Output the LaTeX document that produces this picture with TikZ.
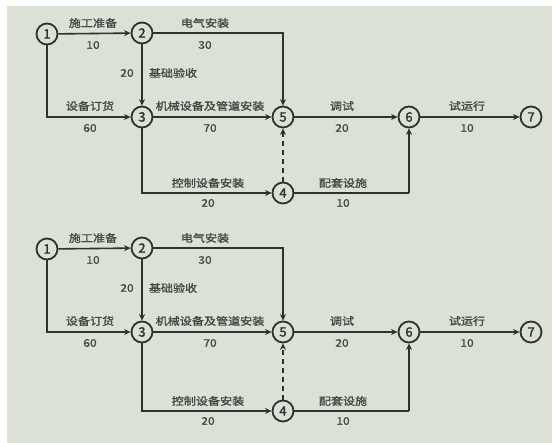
\documentclass[tikz,border=0pt]{standalone}
\usepackage{fontspec}
\setmainfont{Noto Sans CJK SC}[FakeStretch=1.15]
\newfontfamily\labfont{Noto Sans CJK SC}[FakeStretch=1.15,FakeBold=1.3]
\newfontfamily\numfont{Noto Sans CJK SC}[FakeBold=1.6]
\usetikzlibrary{arrows.meta}
\definecolor{bg}{HTML}{DCE1D5}
\definecolor{ink}{HTML}{303030}
\definecolor{txt}{HTML}{454545}
\tikzset{
  ev/.style={circle, draw=ink, line width=1.8pt, minimum size=21pt, inner sep=0pt, font=\numfont\fontsize{13}{13}\selectfont, text=ink},
  arr/.style={draw=ink, line width=1.6pt, -{Stealth[length=6.5pt,width=6pt]}},
  plain/.style={draw=ink, line width=1.6pt},
  dum/.style={arr, dashed, dash pattern=on 5pt off 4pt},
  lab/.style={font=\labfont\fontsize{10.5}{11}\selectfont, text=txt, inner sep=0pt}
}
\newcommand\drawnet[3]{%
  \begin{scope}[yshift=-#2pt]
  \node[ev] (#1n1) at (47,34) {1};
  \node[ev] (#1n2) at (142,33) {2};
  \node[ev] (#1n3) at (142,117) {3};
  \node[ev] (#1n5) at (283,117) {5};
  \node[ev] (#1n4) at (283,#3) {4};
  \node[ev] (#1n6) at (409,117) {6};
  \node[ev] (#1n7) at (531,117) {7};
  \coordinate (#1c46) at (409,#3);
  \draw[arr] (#1n1) -- (#1n2);
  \draw[arr] (#1n2) -| (#1n5);
  \draw[arr] (#1n2) -- (#1n3);
  \draw[arr] (#1n1) |- (#1n3);
  \draw[arr] (#1n3) -- (#1n5);
  \draw[arr] (#1n3) |- (#1n4);
  \draw[dum] (#1n4) -- (#1n5);
  \draw[arr] (#1n5) -- (#1n6);
  \draw[arr] (#1n6) -- (#1n7);
  \draw[plain] (#1n4) -- (#1c46);
  \draw[arr] (#1c46) -- (#1n6);
  \node[lab] (#1l12) at (93,23) {施工准备};
  \node[lab] (#1d12) at (93,45) {10};
  \node[lab] (#1l25) at (205,23) {电气安装};
  \node[lab] (#1d25) at (205,45) {30};
  \node[lab] (#1d23) at (127,73) {20};
  \node[lab] (#1l23) at (173,73) {基础验收};
  \node[lab] (#1l13) at (90,106) {设备订货};
  \node[lab] (#1d13) at (90,128) {60};
  \node[lab] (#1l35) at (210,106) {机械设备及管道安装};
  \node[lab] (#1d35) at (210,128) {70};
  \node[lab] (#1l56) at (342,106) {调试};
  \node[lab] (#1d56) at (342,128) {20};
  \node[lab] (#1l67) at (467,106) {试运行};
  \node[lab] (#1d67) at (467,128) {10};
  \node[lab] (#1l34) at (208,#3-10) {控制设备安装};
  \node[lab] (#1d34) at (208,#3+10) {20};
  \node[lab] (#1l46) at (343,#3-10) {配套设施};
  \node[lab] (#1d46) at (343,#3+10) {10};
  \end{scope}
}
\begin{document}
\begin{tikzpicture}[x=1pt,y=-1pt]
\useasboundingbox (0,0) rectangle (556,443);
\fill[white] (0,0) rectangle (556,443);
\fill[bg] (7,6) rectangle (552,443);
\drawnet{a}{0}{193}
\drawnet{b}{215}{196}
\end{tikzpicture}
\end{document}
